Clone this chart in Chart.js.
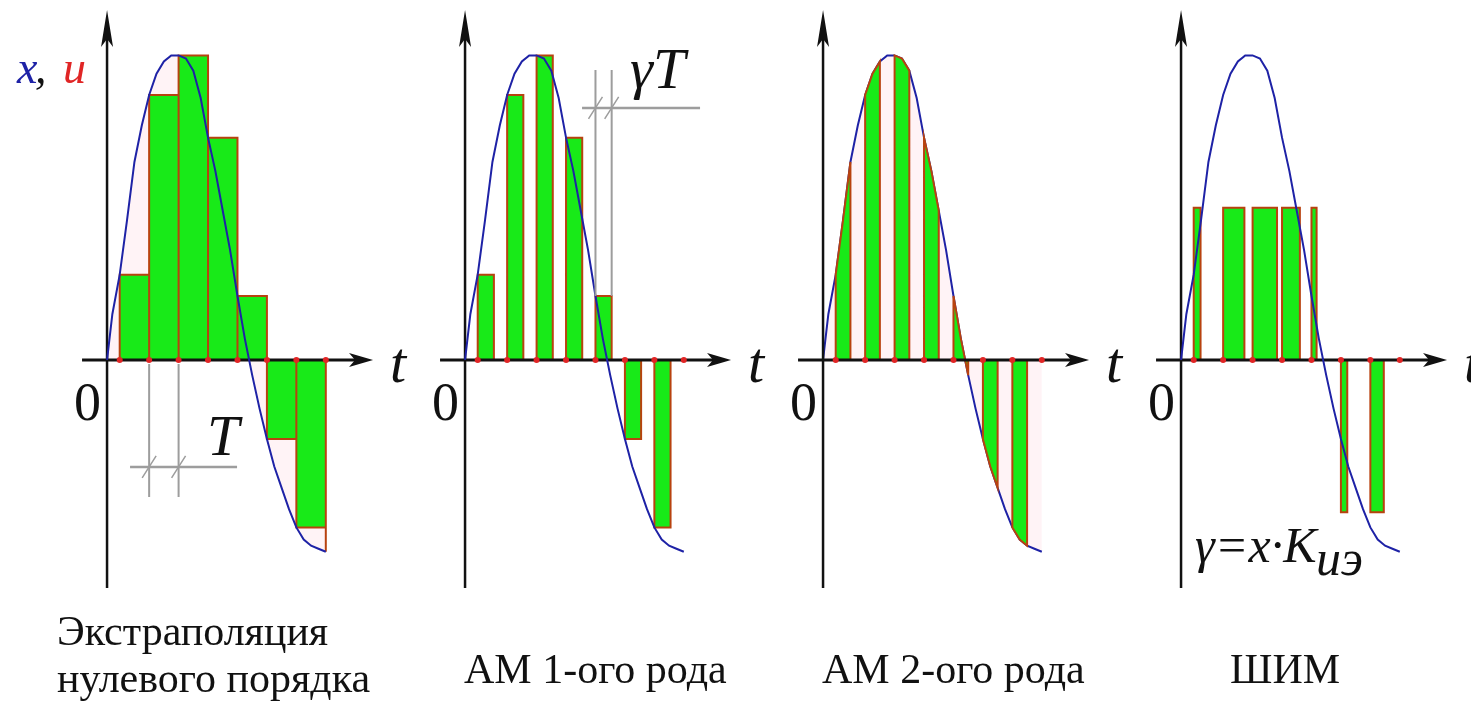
<!DOCTYPE html>
<html>
<head>
<meta charset="utf-8">
<title>Виды модуляции</title>
<script src="https://cdn.jsdelivr.net/npm/chart.js@4.4.1/dist/chart.umd.min.js"></script>
<style>
  html, body { margin: 0; padding: 0; background: #fff; }
  body { position: relative; width: 1471px; height: 708px; overflow: hidden; }
  .panel { position: absolute; top: 0; width: 430px; height: 708px; }
  .panel canvas { display: block; }
  .lbl { position: absolute; left: 0; top: 0; margin: 0; padding: 0; white-space: nowrap;
         line-height: 1; color: #111; font-family: "Liberation Serif", "Times New Roman", serif; }
  .lbl .bl { display: inline-block; width: 0; height: 0; vertical-align: baseline; }
  .math { font-style: italic; font-size: 58px; }
  .law { font-style: italic; font-size: 50px; }
  .letter { font-style: italic; font-size: 46px; }
  .digit { font-size: 54px; }
  .axis { font-style: italic; font-size: 58px; }
  .caption { font-size: 42px; }
</style>
</head>
<body>
<div class="panel" style="left:0px"><canvas id="zoh" width="430" height="708"></canvas></div>
<div class="panel" style="left:358px"><canvas id="am1" width="430" height="708"></canvas></div>
<div class="panel" style="left:716px"><canvas id="am2" width="430" height="708"></canvas></div>
<div class="panel" style="left:1074px"><canvas id="pwm" width="430" height="708"></canvas></div>
<script>
// Continuous signal x(t): t in sampling periods T, x relative to its peak
const curveT = [0, 0.18, 0.43, 0.68, 0.93, 1.18, 1.43, 1.68, 1.93, 2.18, 2.43, 2.68, 2.93, 3.18,
                3.43, 3.68, 3.93, 4.18, 4.43, 4.68, 4.93, 5.18, 5.43, 5.68, 5.93, 6.18, 6.43,
                6.68, 6.93, 7.18, 7.43];
const curveX = [0, 0.15, 0.28, 0.46, 0.65, 0.77, 0.87, 0.94, 0.98, 1.00, 1.00, 0.99, 0.95, 0.86,
                0.73, 0.62, 0.49, 0.36, 0.21, 0.07, -0.05, -0.16, -0.26, -0.35, -0.42, -0.49, -0.55,
                -0.59, -0.61, -0.62, -0.63];

// Sampling instants kT and the sampled values x(kT)
const sampleT = [0.43, 1.43, 2.43, 3.43, 4.43, 5.43, 6.43, 7.43];
const sampleX = [0.28, 0.87, 1.00, 0.73, 0.21, -0.26, -0.55, -0.63];

// Modulation parameters
const amGamma = [0.55];      // pulse duty γ, AM of the 1st kind
const am2Gamma = [0.5];      // pulse duty γ, AM of the 2nd kind
const pwmGain = [0.83];      // K_иэ: duty per unit of x
const pwmLevel = [0.5];      // PWM pulse amplitude
const pulseCount = [7];

// Texts
const captionZoh = ['Экстраполяция', 'нулевого порядка'];
const captionAm1 = ['АМ 1-ого рода'];
const captionAm2 = ['АМ 2-ого рода'];
const captionPwm = ['ШИМ'];
const axisNames = ['x', ',', 'u', 't', '0'];
const dimNames = ['T', 'γT'];
const pwmLaw = ['γ=x·K', 'иэ'];

// Look
const GREEN = '#18ea18';
const EDGE = '#b8420f';
const BLUE = '#1e22a6';
const RED = '#e02525';
const PINK = 'rgba(255, 214, 224, 0.3)';
const GREY = '#9d9d9d';
const INK = '#111111';

// Geometry of one panel canvas: pixels per T, per unit of x, and the origin
const GEO = { tPx: 30, vPx: 308, ox: 105, oy: 360, w: 430, h: 708 };

function xy(ts, vs) { return ts.map((t, i) => ({ x: t, y: vs[i] })); }

// Rectangular pulses [start, end, height] as one broken outline
function rectOutline(list) {
  const out = [];
  list.forEach(([a, b, v]) => {
    out.push({ x: a, y: 0 }, { x: a, y: v }, { x: b, y: v }, { x: b, y: 0 }, { x: b, y: null });
  });
  return out;
}

// Pulses whose top follows the signal itself
function curveOutline(starts, width) {
  const out = [];
  starts.forEach(ts => {
    const te = ts + width;
    out.push({ x: ts, y: 0 });
    curveT.forEach((t, i) => {
      if (t >= ts - 1e-6 && t <= te + 1e-6) out.push({ x: t, y: curveX[i] });
    });
    out.push({ x: te, y: 0 }, { x: te, y: null });
  });
  return out;
}

const tEnd = curveT[curveT.length - 1];
const n = pulseCount[0];

const zohRects = sampleT.map((t, k) => [t, Math.min(t + 1, tEnd), sampleX[k]]);
const am1Rects = sampleT.slice(0, n).map((t, k) => [t, t + amGamma[0], sampleX[k]]);
const pwmRects = sampleT.slice(0, n).map((t, k) =>
  [t, t + Math.abs(sampleX[k]) * pwmGain[0], Math.sign(sampleX[k]) * pwmLevel[0]]);
const am2Outline = curveOutline(sampleT.slice(0, n), am2Gamma[0]);

function signalDs(order) {
  return { data: xy(curveT, curveX), showLine: true, borderColor: BLUE, borderWidth: 2,
           pointRadius: 0, fill: false, order };
}
function shadeDs(order) {
  return { data: xy(curveT, curveX), showLine: true, borderWidth: 0, borderColor: 'transparent',
           backgroundColor: PINK, pointRadius: 0, fill: 'origin', order };
}
function pulseDs(data, order) {
  return { data, showLine: true, borderColor: EDGE, borderWidth: 2, backgroundColor: GREEN,
           pointRadius: 0, fill: 'origin', order, axesAfter: true };
}
function samplesDs() {
  return { data: sampleT.map(t => ({ x: t, y: 0 })), showLine: false, pointRadius: 3,
           pointBackgroundColor: RED, pointBorderWidth: 0, order: 0 };
}

const px = (c, t) => c.scales.x.getPixelForValue(t);
const py = (c, v) => c.scales.y.getPixelForValue(v);

// Places a text on a panel with its baseline at (x, y)
function place(chart, s, x, y, cls, color, align) {
  const panel = chart.canvas.parentNode;
  const el = document.createElement('div');
  el.className = 'lbl ' + cls;
  el.appendChild(document.createTextNode(s));
  const mark = document.createElement('span');
  mark.className = 'bl';
  el.appendChild(mark);
  if (color) el.style.color = color;
  panel.appendChild(el);
  const base = mark.offsetTop;
  const w = el.offsetWidth;
  el.style.left = (align === 'right' ? x - w : x) + 'px';
  el.style.top = (y - base) + 'px';
  return w;
}

function drawAxes(chart) {
  const ctx = chart.ctx;
  const x0 = px(chart, 0), y0 = py(chart, 0);
  ctx.save();
  ctx.strokeStyle = INK;
  ctx.fillStyle = INK;
  ctx.lineWidth = 2.5;
  ctx.beginPath(); ctx.moveTo(x0, y0 + 228); ctx.lineTo(x0, y0 - 325); ctx.stroke();
  ctx.lineWidth = 3;
  ctx.beginPath(); ctx.moveTo(x0 - 25, y0); ctx.lineTo(x0 + 250, y0); ctx.stroke();
  const ty = y0 - 350;
  ctx.beginPath();
  ctx.moveTo(x0, ty); ctx.lineTo(x0 + 6, ty + 37); ctx.lineTo(x0, ty + 29); ctx.lineTo(x0 - 6, ty + 37);
  ctx.closePath(); ctx.fill();
  const tx = x0 + 266;
  ctx.beginPath();
  ctx.moveTo(tx, y0); ctx.lineTo(tx - 24, y0 - 7); ctx.lineTo(tx - 18, y0); ctx.lineTo(tx - 24, y0 + 7);
  ctx.closePath(); ctx.fill();
  ctx.restore();
}

function dimension(ctx, xa, xb, ya, yb, yLine, xl, xr) {
  ctx.save();
  ctx.strokeStyle = GREY;
  ctx.lineWidth = 2;
  ctx.beginPath();
  ctx.moveTo(xa, ya); ctx.lineTo(xa, yb);
  ctx.moveTo(xb, ya); ctx.lineTo(xb, yb);
  ctx.stroke();
  ctx.lineWidth = 2.5;
  ctx.beginPath(); ctx.moveTo(xl, yLine); ctx.lineTo(xr, yLine); ctx.stroke();
  ctx.lineWidth = 1.5;
  ctx.beginPath();
  [xa, xb].forEach(x => { ctx.moveTo(x - 7, yLine + 11); ctx.lineTo(x + 7, yLine - 11); });
  ctx.stroke();
  ctx.restore();
}

// Dimension lines for T and γT
function drawDimensions(chart, kind) {
  const ctx = chart.ctx;
  const x0 = px(chart, 0), y0 = py(chart, 0);
  if (kind === 'zoh') {
    dimension(ctx, px(chart, sampleT[1]), px(chart, sampleT[2]), y0 + 4, y0 + 137, y0 + 107,
              x0 + 23, x0 + 130);
  } else if (kind === 'am1') {
    const k = 4;
    dimension(ctx, px(chart, sampleT[k]), px(chart, sampleT[k] + amGamma[0]),
              py(chart, sampleX[k]), y0 - 290, y0 - 252, x0 + 117, x0 + 235);
  }
}

// Axis names, dimension names and captions
function addLabels(chart, kind) {
  const x0 = px(chart, 0), y0 = py(chart, 0);
  place(chart, axisNames[4], x0 - 6, y0 + 60, 'digit', null, 'right');
  place(chart, axisNames[3], x0 + 283, y0 + 22, 'axis');
  if (kind === 'zoh') {
    place(chart, axisNames[0], x0 - 90, y0 - 277, 'letter', BLUE);
    place(chart, axisNames[1], x0 - 72, y0 - 277, 'letter', INK);
    place(chart, axisNames[2], x0 - 44, y0 - 277, 'letter', RED);
    place(chart, dimNames[0], x0 + 100, y0 + 95, 'math');
    place(chart, captionZoh[0], x0 - 50, y0 + 285, 'caption');
    place(chart, captionZoh[1], x0 - 50, y0 + 332, 'caption');
  } else if (kind === 'am1') {
    place(chart, dimNames[1], x0 + 165, y0 - 272, 'math');
    place(chart, captionAm1[0], x0 - 1, y0 + 323, 'caption');
  } else if (kind === 'am2') {
    place(chart, captionAm2[0], x0 - 1, y0 + 323, 'caption');
  } else if (kind === 'pwm') {
    const w = place(chart, pwmLaw[0], x0 + 14, y0 + 202, 'law');
    place(chart, pwmLaw[1], x0 + 14 + w, y0 + 215, 'law');
    place(chart, captionPwm[0], x0 + 49, y0 + 323, 'caption');
  }
}

const diagramPlugin = {
  id: 'diagram',
  afterDatasetDraw(chart, args) {
    const ds = chart.data.datasets[args.index];
    if (ds && ds.axesAfter) drawAxes(chart);
  },
  afterDraw(chart, args, opts) {
    drawDimensions(chart, opts.kind);
  }
};

function makeChart(id, kind, datasets) {
  const chart = new Chart(document.getElementById(id), {
    type: 'scatter',
    data: { datasets },
    plugins: [diagramPlugin],
    options: {
      responsive: false,
      animation: false,
      events: [],
      layout: { padding: 0 },
      elements: { line: { tension: 0 } },
      scales: {
        x: { type: 'linear', display: false, min: -GEO.ox / GEO.tPx, max: (GEO.w - GEO.ox) / GEO.tPx },
        y: { type: 'linear', display: false, min: -(GEO.h - GEO.oy) / GEO.vPx, max: GEO.oy / GEO.vPx }
      },
      plugins: {
        legend: { display: false },
        tooltip: { enabled: false },
        diagram: { kind }
      }
    }
  });
  addLabels(chart, kind);
  return chart;
}

makeChart('zoh', 'zoh', [shadeDs(5), pulseDs(rectOutline(zohRects), 4), signalDs(2), samplesDs()]);
makeChart('am1', 'am1', [pulseDs(rectOutline(am1Rects), 4), signalDs(2), samplesDs()]);
makeChart('am2', 'am2', [shadeDs(6), signalDs(5), pulseDs(am2Outline, 3), samplesDs()]);
makeChart('pwm', 'pwm', [pulseDs(rectOutline(pwmRects), 4), signalDs(2), samplesDs()]);
</script>
</body>
</html>
